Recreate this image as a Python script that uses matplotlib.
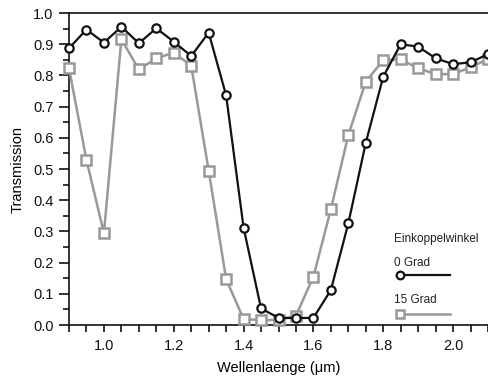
import numpy as np
import matplotlib.pyplot as plt
from matplotlib.lines import Line2D
from matplotlib.ticker import MultipleLocator

plt.rcParams['font.family'] = ['Liberation Sans', 'DejaVu Sans']

wavelength = [0.90, 0.95, 1.00, 1.05, 1.10, 1.15, 1.20, 1.25, 1.30, 1.35,
              1.40, 1.45, 1.50, 1.55, 1.60, 1.65, 1.70, 1.75, 1.80, 1.85,
              1.90, 1.95, 2.00, 2.05, 2.10]
t_0grad = [0.887, 0.947, 0.905, 0.956, 0.903, 0.951, 0.908, 0.862, 0.937, 0.736,
           0.312, 0.053, 0.023, 0.022, 0.023, 0.112, 0.326, 0.584, 0.796, 0.900,
           0.892, 0.855, 0.836, 0.842, 0.868]
t_15grad = [0.823, 0.529, 0.294, 0.916, 0.819, 0.855, 0.873, 0.831, 0.495, 0.147,
            0.019, 0.016, 0.016, 0.030, 0.155, 0.371, 0.609, 0.780, 0.849, 0.851,
            0.823, 0.804, 0.804, 0.826, 0.852]

black = "#111111"
grey = "#999999"

fig = plt.figure(figsize=(4.88, 3.78), dpi=100)
ax = fig.add_axes([0.1414, 0.1402, 0.8586, 0.8254])

ax.plot(wavelength, t_15grad, color=grey, lw=1.8, marker="s", ms=6.8,
        mfc="white", mec=grey, mew=1.8, clip_on=False, zorder=3)
ax.plot(wavelength, t_0grad, color=black, lw=1.6, marker="o", ms=6,
        mfc="white", mec=black, mew=1.6, clip_on=False, zorder=4)

ax.set_xlim(0.9, 2.1)
ax.set_ylim(0.0, 1.0)
ax.set_xticks([1.0, 1.2, 1.4, 1.6, 1.8, 2.0])
ax.xaxis.set_minor_locator(MultipleLocator(0.05))
ax.yaxis.set_major_locator(MultipleLocator(0.1))
ax.yaxis.set_minor_locator(MultipleLocator(0.05))
ax.tick_params(which="both", direction="out", width=1.2, labelsize=10.5, colors=black)
ax.tick_params(axis="y", which="major", length=7, pad=4)
ax.tick_params(axis="y", which="minor", length=4)
ax.tick_params(axis="x", which="both", length=5, pad=5)

for side in ["left", "bottom", "top"]:
    ax.spines[side].set_linewidth(1.2)
    ax.spines[side].set_color(black)
ax.spines["right"].set_visible(False)

ax.set_xlabel("Wellenlaenge (\u03bcm)", fontsize=10.5, labelpad=6)
ax.set_ylabel("Transmission", fontsize=10.5, labelpad=6)

# legend block drawn in axes coordinates
tr = ax.transAxes
ax.text(0.775, 0.265, "Einkoppelwinkel", transform=tr, fontsize=8.5, color="#222222")
ax.text(0.775, 0.19, "0 Grad", transform=tr, fontsize=8.5, color="#222222")
ax.add_line(Line2D([0.79, 0.91], [0.16, 0.16], transform=tr, color=black, lw=1.6))
ax.add_line(Line2D([0.79], [0.16], transform=tr, color=black, marker="o", ms=5.5,
                   mfc="white", mec=black, mew=1.6))
ax.text(0.775, 0.07, "15 Grad", transform=tr, fontsize=8.5, color="#222222")
ax.add_line(Line2D([0.79, 0.91], [0.035, 0.035], transform=tr, color=grey, lw=1.8))
ax.add_line(Line2D([0.79], [0.035], transform=tr, color=grey, marker="s", ms=6,
                   mfc="white", mec=grey, mew=1.8))

fig.savefig("out.png", dpi=100)
